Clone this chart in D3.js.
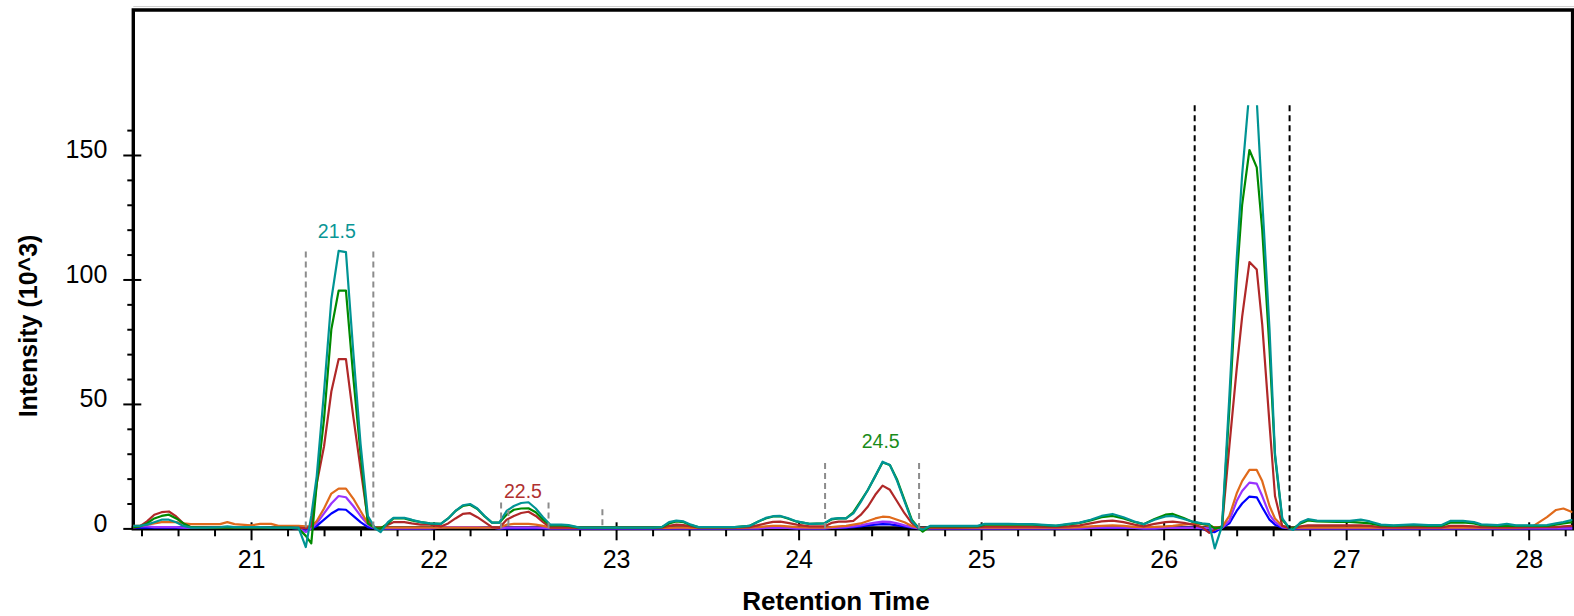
<!DOCTYPE html>
<html>
<head>
<meta charset="utf-8">
<script src="https://cdn.jsdelivr.net/npm/d3@7"></script>
<style>
  body { margin: 0; background: #fff; }
  svg { display: block; font-family: Arial, "Liberation Sans", sans-serif; }
</style>
</head>
<body>
<div id="chart"></div>
<script>
// retention time (min) of the sampled points, shared by every trace
const retentionTime = [
  20.35, 20.39, 20.43, 20.47, 20.51, 20.55, 20.59, 20.63, 20.67, 20.75,
  20.83, 20.87, 20.91, 21.00, 21.05, 21.11, 21.15, 21.22, 21.26, 21.30,
  21.33, 21.36, 21.40, 21.44, 21.48, 21.52, 21.56, 21.60, 21.64, 21.68,
  21.71, 21.75, 21.78, 21.84, 21.88, 21.93, 21.98, 22.04, 22.08, 22.12,
  22.16, 22.20, 22.24, 22.28, 22.32, 22.36, 22.40, 22.44, 22.48, 22.52,
  22.56, 22.60, 22.64, 22.70, 22.74, 22.80, 23.20, 23.25, 23.29, 23.33,
  23.37, 23.41, 23.45, 23.65, 23.73, 23.78, 23.82, 23.86, 23.90, 23.94,
  23.99, 24.06, 24.14, 24.18, 24.22, 24.26, 24.30, 24.34, 24.38, 24.42,
  24.46, 24.50, 24.54, 24.58, 24.62, 24.66, 24.68, 24.72, 24.85, 24.98,
  25.02, 25.15, 25.28, 25.41, 25.48, 25.54, 25.60, 25.66, 25.72, 25.78,
  25.84, 25.89, 25.95, 26.01, 26.05, 26.11, 26.16, 26.21, 26.25, 26.28,
  26.32, 26.36, 26.40, 26.43, 26.47, 26.51, 26.54, 26.58, 26.61, 26.65,
  26.69, 26.71, 26.75, 26.79, 26.84, 26.95, 27.02, 27.08, 27.13, 27.19,
  27.26, 27.37, 27.45, 27.52, 27.57, 27.64, 27.70, 27.74, 27.83, 27.88,
  27.93, 28.02, 28.10, 28.15, 28.19, 28.24
];

// intensities (10^3) of each trace
const tealTrace = [
  1, 1, 1.5, 2.5, 3.5, 3.5, 2.5, 1, 0.3, 0.3,
  0.5, 0.8, 0.5, 0.5, 0.5, 0.3, 0.3, 0.3, 0.3, -7.5,
  5, 21, 55, 92, 111.5, 111, 71, 34, 5, 0,
  -1.5, 2.5, 4.2, 4.2, 3.5, 2.5, 2, 1.8, 4, 7,
  9.3, 9.8, 8, 5, 2.3, 2.3, 7, 9, 10.2, 10.5,
  8, 4.5, 1.5, 1.5, 1.3, 0.3, 0.3, 0.5, 2.5, 3.1,
  2.8, 1.5, 0.5, 0.5, 1, 2.8, 4.2, 4.9, 5, 4.2,
  2.8, 1.8, 2, 3.8, 4.1, 4, 6, 10.5, 15.5, 21,
  26.8, 25.5, 19, 11, 3, 0, -0.5, 1, 1, 1,
  1.8, 1.8, 1.7, 1.1, 1.8, 2.3, 3.5, 5, 5.8, 4.5,
  2.8, 1.7, 3.5, 4.8, 5, 3.8, 2.7, 2, 1.7, -8,
  1, 53, 108, 142, 176, 172, 132, 80, 30, 4,
  0, -0.6, 2.5, 3.7, 3.1, 3, 3, 3.5, 2.8, 1.5,
  1.2, 1.6, 1.3, 1.3, 3, 3, 2.5, 1.6, 1.3, 1.8,
  1.2, 1.2, 1.3, 2, 2.5, 3.5
];
const greenTrace = [
  0.5, 0.8, 2, 4, 5, 5.5, 4, 2, 0.5, 0.3,
  0.3, 0.3, 0.3, 0.3, 0.3, 0.3, 0.3, 0.3, 0, -3,
  -6, 18, 44, 80, 95.5, 95.5, 61, 30, 2, 0,
  0, 2, 4, 4, 3.2, 2.5, 2, 1.8, 4, 7,
  9, 9.5, 7.8, 4.8, 2.3, 2.3, 5.5, 7.5, 8, 8.1,
  6.5, 3.5, 1.2, 1.2, 1, 0.3, 0.3, 0.5, 2, 2.8,
  2.5, 1.3, 0.5, 0.5, 1, 2.8, 4, 4.8, 4.9, 4,
  2.7, 1.8, 2, 3.6, 4, 4, 6.5, 11, 15.5, 21,
  26.5, 25.5, 19.5, 11.5, 3.5, 0, -1.3, 0.8, 0.8, 0.8,
  1.5, 1.5, 1.5, 1, 1.6, 2.2, 3.2, 4.5, 5, 4,
  2.6, 1.7, 3.8, 5.5, 5.8, 4.2, 2.6, 1.8, 1.5, 0,
  0.5, 48, 100, 130, 152, 145, 120, 72, 29, 3.5,
  0, 0, 2, 3.2, 2.8, 2.6, 2.6, 2.3, 2, 1.2,
  1, 1.3, 1, 1, 2.3, 2.4, 2, 1.3, 1, 1,
  1, 1, 1, 1.5, 2, 2.5
];
const brownTrace = [
  0.3, 0.8, 2.8, 5.5, 6.5, 6.8, 4.8, 2, 0.5, 0.3,
  0.3, 0.3, 0.3, 0.3, 0.3, 0.3, 0.3, 0.3, 0.3, 0,
  1, 18, 33, 55, 68, 68, 45, 24, 3.5, 0,
  0, 1.5, 2.5, 2.5, 2, 1.5, 1.5, 0.8, 2, 4,
  5.8, 6.1, 4.5, 2.5, 0.5, 0.2, 3.5, 5, 6.2, 6.7,
  5, 2.5, 0.3, 0.3, 0.3, 0.2, 0.2, 0.3, 1, 1.5,
  1.3, 0.8, 0.3, 0.3, 0.5, 1.3, 2, 2.6, 2.7, 2.2,
  1.5, 0.8, 0.8, 2.2, 2.7, 2.7, 3, 5.4, 8.8, 13.5,
  17.2, 15.5, 10.8, 6.1, 2.1, 0, 0, 0.3, 0.3, 0.5,
  0.7, 0.7, 0.7, 0.5, 0.8, 1.2, 2, 2.8, 3.1, 2.5,
  1.5, 0.8, 1.8, 2.5, 2.7, 2.2, 1.5, 0.5, -1.8, -0.5,
  1, 33, 64, 85, 107, 104, 82, 42, 13, 1,
  0, 0, 0.8, 1.2, 1.2, 1.2, 1.2, 1.2, 1, 0.5,
  0.4, 0.5, 0.4, 0.4, 1, 1, 0.8, 0.5, 0.4, 0.4,
  0.4, 0.4, 0.5, 0.5, 0.8, 1
];
const orangeTrace = [
  1, 1, 1.5, 2, 2.5, 2.5, 2.5, 2, 1.7, 1.7,
  1.7, 2.5, 1.7, 1.2, 1.8, 1.8, 1, 1, 1, 0.8,
  0.8, 3, 8, 14, 16, 16, 12, 7, 2, 0.3,
  0.3, 0.3, 0.3, 0.3, 0.3, 0.3, 0.3, 0.3, 0.3, 0.3,
  0.3, 0.3, 0.3, 0.3, 0.3, 0.3, 1.5, 1.8, 1.8, 1.8,
  1.5, 1, 0.3, 0.3, 0.3, 0.2, 0.2, 0.2, 0.2, 0.3,
  0.3, 0.2, 0.2, 0.2, 0.3, 0.5, 0.8, 1, 1, 0.8,
  0.5, 0.3, 0.3, 0.5, 0.8, 1, 1.5, 2, 3, 4,
  4.7, 4.5, 3.5, 2.5, 1, 0.2, 0, 0.2, 0.2, 0.3,
  0.3, 0.3, 0.3, 0.3, 0.3, 0.5, 0.8, 1, 1.2, 1,
  0.6, 0.5, 0.6, 0.8, 1, 1.5, 1.8, 1.8, 1, 0.3,
  0.5, 5, 14, 19, 23.5, 23.5, 19, 9, 4, 1,
  0.3, 0.2, 0.3, 0.3, 0.3, 0.3, 0.3, 0.3, 0.3, 0.3,
  0.3, 0.3, 0.3, 0.3, 0.3, 0.3, 0.3, 0.3, 0.3, 0.3,
  0.3, 0.7, 4.5, 7.4, 8, 6.5
];
const purpleTrace = [
  0.8, 0.8, 0.8, 0.5, 0.5, 0.5, 0.5, 0.3, 0.2, 0.2,
  0.2, 0.2, 0.2, 0.2, 0.2, 0.2, 0.2, 0.2, 0, -1.5,
  0, 2, 6, 10, 13, 12.5, 9, 5, 1.5, 0,
  0, 0, 0, 0, 0, 0, 0, 0.3, 0.5, 0.5,
  0.5, 0.5, 0.5, 0.3, 0.3, 0, 0.3, 0.3, 0.3, 0.3,
  0.3, 0.2, 0, 0, 0, 0, 0, 0, 0, 0,
  0, 0, 0, 0, 0, 0, 0.2, 0.2, 0.2, 0.2,
  0, 0, 0, 0.2, 0.3, 0.5, 0.8, 1.2, 1.8, 2.3,
  2.7, 2.6, 2, 1.2, 0.5, 0, 0, 0, 0, 0,
  0, 0, 0, 0, 0, 0, 0.2, 0.3, 0.3, 0.3,
  0.2, 0, 0, 0.2, 0.2, 0.2, 0.2, 0.2, 0, -0.5,
  0.3, 3, 11, 15, 18.4, 18, 13, 5.5, 2.5, 0.5,
  0, 0, 0, 0, 0, 0, 0, 0, 0, 0,
  0, 0, 0, 0, 0, 0, 0, 0, 0, 0,
  0, 0, 0, 0, 0, 0
];
const blueTrace = [
  0.3, 0.3, 0.3, 0.3, 0.3, 0.3, 0.3, 0.2, 0.2, 0.2,
  0.2, 0.2, 0.2, 0.2, 0.2, 0.2, 0.2, 0.2, 0, -0.5,
  0, 1, 3.5, 6, 7.7, 7.5, 5, 2.5, 0.5, 0,
  0, 0, 0, 0, 0, 0, 0, 0.3, 0.5, 0.5,
  0.5, 0.5, 0.5, 0.3, 0.3, 0, 0, 0, 0, 0,
  0, 0, 0, 0, 0, 0, 0, 0, 0, 0,
  0, 0, 0, 0, 0, 0, 0.2, 0.2, 0.2, 0.2,
  0, 0, 0, 0.2, 0.2, 0.3, 0.5, 0.8, 1.2, 1.5,
  1.7, 1.6, 1.2, 0.8, 0.3, 0, 0, 0, 0, 0,
  0, 0, 0, 0, 0, 0, 0.2, 0.2, 0.2, 0.2,
  0.2, 0, 0, 0.2, 0.2, 0.2, 0.2, 0, -1.3, -1.5,
  0.2, 2, 7, 10, 12.8, 12.5, 8.5, 3.5, 1.5, 0.3,
  0, 0, 0, 0, 0, 0, 0, 0, 0, 0,
  0, 0, 0, 0, 0, 0, 0, 0, 0, 0,
  0, 0, 0, 0, 0, 0
];

// peak boundaries (dashed markers) and the peak labels
const boundaryRT = [21.30, 21.67, 22.37, 22.41, 22.63, 22.925, 24.145, 24.66];
const boundaryTop = [111.2, 111.2, 10.4, 7.4, 10.4, 7.7, 26.3, 26.3];
const selectedBoundaryRT = [26.17, 26.69];
const peakLabels = ['21.5', '22.5', '24.5'];
const peakLabelRT = [21.47, 22.49, 24.45];
const peakLabelLevel = [116.5, 12.1, 32.2];

const xTicks = [21, 22, 23, 24, 25, 26, 27, 28];
const yTicks = [0, 50, 100, 150];

const W = 1574, H = 616;

const traces = [
  { values: blueTrace, color: '#0000ff' },
  { values: purpleTrace, color: '#9933ff' },
  { values: orangeTrace, color: '#e06a1b' },
  { values: brownTrace, color: '#b02828' },
  { values: greenTrace, color: '#008a00' },
  { values: tealTrace, color: '#009494' }
];
const labelColors = ['#0a9696', '#b03030', '#1a8c1a'];

const svg = d3.select('#chart').append('svg')
  .attr('width', W)
  .attr('height', H);

const x = d3.scaleLinear().domain([20.35, 28.24]).range([132.4, 1572.5]);
const y = d3.scaleLinear().domain([0, 170]).range([528.4, 105.2]);

const plotLeft = 133.3, plotRight = 1572.6, plotTop = 10, plotBottom = 528.3;

// clip for traces (the dips below zero stay visible)
svg.append('clipPath').attr('id', 'clip')
  .append('rect')
  .attr('x', plotLeft).attr('y', y(170))
  .attr('width', plotRight - plotLeft)
  .attr('height', 580 - y(170));

// faint line above the frame
svg.append('line')
  .attr('x1', plotLeft).attr('x2', W)
  .attr('y1', 6.5).attr('y2', 6.5)
  .attr('stroke', '#d0d0d0').attr('stroke-width', 1);

// minor ticks
svg.append('g')
  .attr('transform', `translate(0,${plotBottom})`)
  .call(d3.axisBottom(x)
    .tickValues(d3.range(20.4, 28.25, 0.2).filter(v => Math.abs(v - Math.round(v)) > 0.01))
    .tickSize(8).tickSizeOuter(0).tickFormat(''))
  .call(g => g.select('.domain').remove())
  .call(g => g.selectAll('.tick line').attr('stroke', '#000').attr('stroke-width', 2));

svg.append('g')
  .attr('transform', `translate(${plotLeft},0)`)
  .call(d3.axisLeft(y)
    .tickValues(d3.range(10, 170, 10).filter(v => v % 50 !== 0))
    .tickSize(6).tickSizeOuter(0).tickFormat(''))
  .call(g => g.select('.domain').remove())
  .call(g => g.selectAll('.tick line').attr('stroke', '#000').attr('stroke-width', 2));

// major ticks with labels
const xAxis = svg.append('g')
  .attr('transform', `translate(0,${plotBottom})`)
  .call(d3.axisBottom(x).tickValues(xTicks).tickSize(12).tickSizeOuter(0).tickFormat(d3.format('d')))
  .call(g => g.select('.domain').remove());
xAxis.selectAll('.tick line').attr('y1', -6).attr('stroke', '#000').attr('stroke-width', 2);
xAxis.selectAll('.tick text')
  .attr('y', 40).attr('dy', null)
  .attr('fill', '#000')
  .style('font-size', '25px')
  .style('font-family', 'Arial, "Liberation Sans", sans-serif');

const yAxis = svg.append('g')
  .attr('transform', `translate(${plotLeft},0)`)
  .call(d3.axisLeft(y).tickValues(yTicks).tickSize(10).tickSizeOuter(0))
  .call(g => g.select('.domain').remove());
yAxis.selectAll('.tick line').attr('x2', -10).attr('x1', 8).attr('stroke', '#000').attr('stroke-width', 2);
yAxis.selectAll('.tick text')
  .attr('x', -26).attr('dy', '3px')
  .attr('fill', '#000')
  .style('font-size', '25px')
  .style('font-family', 'Arial, "Liberation Sans", sans-serif');

// frame
svg.append('path')
  .attr('d', `M${plotLeft},${plotBottom}V${plotTop}H${plotRight}V${plotBottom}`)
  .attr('fill', 'none').attr('stroke', '#000').attr('stroke-width', 3.4);
svg.append('line')
  .attr('x1', plotLeft - 1.7).attr('x2', plotRight + 1.7)
  .attr('y1', plotBottom).attr('y2', plotBottom)
  .attr('stroke', '#000').attr('stroke-width', 4.2);

// traces
const line = d3.line()
  .x((d, i) => x(retentionTime[i]))
  .y(d => y(d));

svg.append('g').attr('clip-path', 'url(#clip)')
  .selectAll('path')
  .data(traces)
  .join('path')
  .attr('d', d => line(d.values))
  .attr('fill', 'none')
  .attr('stroke', d => d.color)
  .attr('stroke-width', 2.2)
  .attr('stroke-linejoin', 'round');

// peak boundaries
svg.append('g')
  .selectAll('line')
  .data(boundaryRT)
  .join('line')
  .attr('x1', d => x(d)).attr('x2', d => x(d))
  .attr('y1', (d, i) => y(boundaryTop[i])).attr('y2', y(0))
  .attr('stroke', '#8c8c8c').attr('stroke-width', 2)
  .attr('stroke-dasharray', '6,4');

svg.append('g')
  .selectAll('line')
  .data(selectedBoundaryRT)
  .join('line')
  .attr('x1', d => x(d)).attr('x2', d => x(d))
  .attr('y1', y(170)).attr('y2', y(0))
  .attr('stroke', '#000').attr('stroke-width', 2)
  .attr('stroke-dasharray', '6,4');

// peak labels
svg.append('g')
  .selectAll('text')
  .data(peakLabels)
  .join('text')
  .attr('x', (d, i) => x(peakLabelRT[i]))
  .attr('y', (d, i) => y(peakLabelLevel[i]))
  .attr('text-anchor', 'middle')
  .attr('fill', (d, i) => labelColors[i])
  .style('font-size', '19.5px')
  .text(d => d);

// axis titles
svg.append('text')
  .attr('x', 836)
  .attr('y', 610)
  .attr('text-anchor', 'middle')
  .style('font-size', '26px')
  .style('font-weight', 'bold')
  .text('Retention Time');

svg.append('text')
  .attr('transform', `translate(37,${326}) rotate(-90)`)
  .attr('text-anchor', 'middle')
  .style('font-size', '25px')
  .style('font-weight', 'bold')
  .text('Intensity (10^3)');
</script>
</body>
</html>
